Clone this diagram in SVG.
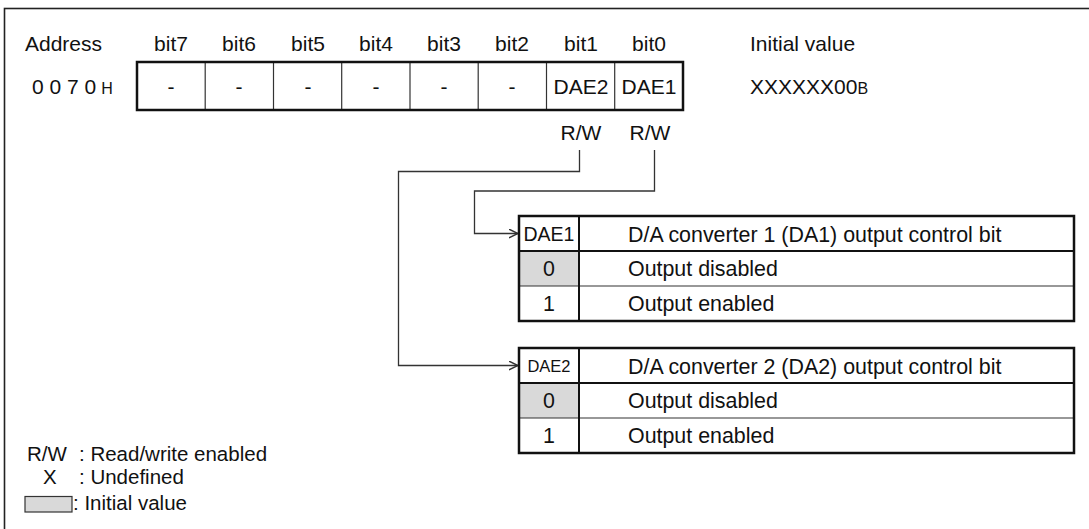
<svg xmlns="http://www.w3.org/2000/svg" width="1089" height="529" viewBox="0 0 1089 529">
<style>
text{font-family:"Liberation Sans",Arial,Helvetica,sans-serif;fill:#111;}
.t{font-size:21px;}
.tb{font-size:21.4px;}
.m{text-anchor:middle;}
.s{font-size:16px;}
.lg{font-size:20.5px;}
.thick{fill:none;stroke:#111;stroke-width:2.5;}
.thin{fill:none;stroke:#333;stroke-width:1.2;}
.med{fill:none;stroke:#111;stroke-width:2;}
.gray{fill:#d9d9d9;}
.conn{fill:none;stroke:#333;stroke-width:1.3;}
</style>
<defs>
<marker id="arr" viewBox="0 0 10 10" refX="9.5" refY="5" markerWidth="10" markerHeight="10" markerUnits="userSpaceOnUse" orient="auto">
<path d="M0.5,0.6 L9.5,5 L0.5,9.4" fill="none" stroke="#333" stroke-width="1.4"/>
</marker>
</defs>
<rect id="frame" x="4.5" y="8.5" width="1100" height="600" fill="#fff" stroke="#222" stroke-width="1.6"/>

<g id="header">
<text class="t" x="25" y="51">Address</text>
<text class="t m" x="171" y="51">bit7</text>
<text class="t m" x="239" y="51">bit6</text>
<text class="t m" x="308" y="51">bit5</text>
<text class="t m" x="376" y="51">bit4</text>
<text class="t m" x="444" y="51">bit3</text>
<text class="t m" x="512" y="51">bit2</text>
<text class="t m" x="581" y="51">bit1</text>
<text class="t m" x="649" y="51">bit0</text>
<text class="t" x="750" y="51">Initial value</text>
</g>

<g id="address">
<text class="t" x="32" y="94">0 0 7 0<tspan class="s" dx="5">H</tspan></text>
</g>

<g id="register">
<line class="thin" x1="205.2" y1="62" x2="205.2" y2="110"/>
<line class="thin" x1="273.5" y1="62" x2="273.5" y2="110"/>
<line class="thin" x1="341.7" y1="62" x2="341.7" y2="110"/>
<line class="thin" x1="410" y1="62" x2="410" y2="110"/>
<line class="thin" x1="478.2" y1="62" x2="478.2" y2="110"/>
<line class="thin" x1="546.5" y1="62" x2="546.5" y2="110"/>
<line class="thin" x1="614.7" y1="62" x2="614.7" y2="110"/>
<rect class="thick" x="137" y="62" width="546" height="48"/>
<text class="t m" x="171" y="94">-</text>
<text class="t m" x="239" y="94">-</text>
<text class="t m" x="308" y="94">-</text>
<text class="t m" x="376" y="94">-</text>
<text class="t m" x="444" y="94">-</text>
<text class="t m" x="512" y="94">-</text>
<text class="t m" x="581" y="94">DAE2</text>
<text class="t m" x="649" y="94">DAE1</text>
<text class="t m" x="581" y="140">R/W</text>
<text class="t m" x="650" y="140">R/W</text>
</g>

<g id="initial">
<text class="t" x="750" y="94">XXXXXX00<tspan class="s">B</tspan></text>
</g>

<g id="connectors">
<path class="conn" d="M579.5,150 V171.5 H398.5 V365.5 H518" marker-end="url(#arr)"/>
<path class="conn" d="M654.5,150 V191 H474.5 V233.5 H518" marker-end="url(#arr)"/>
</g>

<g id="table-dae1">
<rect class="gray" x="519" y="251" width="60" height="35"/>
<line class="med" x1="519" y1="251" x2="1074" y2="251"/>
<line class="thin" x1="519" y1="286" x2="1074" y2="286"/>
<line class="med" x1="579" y1="216" x2="579" y2="321"/>
<rect class="thick" x="519" y="216" width="555" height="105"/>
<text class="m" style="font-size:19.5px" x="549" y="240.5">DAE1</text>
<text class="tb" x="628" y="241.5">D/A converter 1 (DA1) output control bit</text>
<text class="tb m" x="549" y="276">0</text>
<text class="tb" x="628" y="276">Output disabled</text>
<text class="tb m" x="549" y="311">1</text>
<text class="tb" x="628" y="311">Output enabled</text>
</g>

<g id="table-dae2">
<rect class="gray" x="519" y="383" width="60" height="35"/>
<line class="med" x1="519" y1="383" x2="1074" y2="383"/>
<line class="thin" x1="519" y1="418" x2="1074" y2="418"/>
<line class="med" x1="579" y1="348" x2="579" y2="453"/>
<rect class="thick" x="519" y="348" width="555" height="105"/>
<text class="m" style="font-size:16.5px" x="549" y="371.5">DAE2</text>
<text class="tb" x="628" y="373.5">D/A converter 2 (DA2) output control bit</text>
<text class="tb m" x="549" y="408">0</text>
<text class="tb" x="628" y="408">Output disabled</text>
<text class="tb m" x="549" y="443">1</text>
<text class="tb" x="628" y="443">Output enabled</text>
</g>

<g id="legend">
<text class="lg" x="27" y="461">R/W</text>
<text class="lg" x="79" y="461">: Read/write enabled</text>
<text class="lg" x="43" y="484">X</text>
<text class="lg" x="79" y="484">: Undefined</text>
<rect x="25" y="496.5" width="47" height="15.5" fill="#d9d9d9" stroke="#333" stroke-width="1.2"/>
<text class="lg" x="73" y="510">: Initial value</text>
</g>
</svg>
